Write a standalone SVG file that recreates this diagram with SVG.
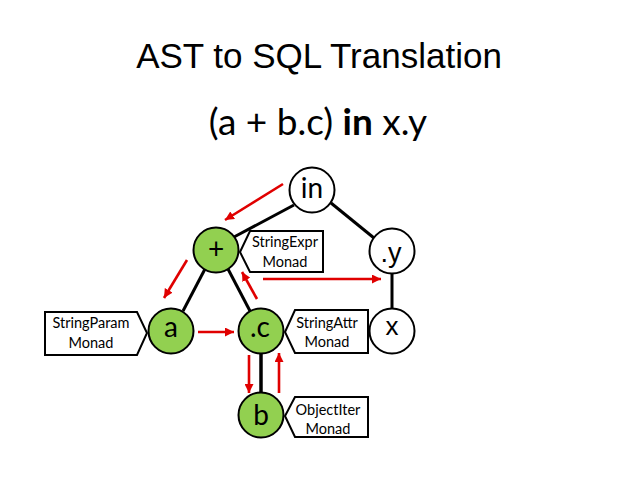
<svg xmlns="http://www.w3.org/2000/svg" width="638" height="479" viewBox="0 0 638 479">
<style>
.edge{stroke:#000;stroke-width:3;fill:none}
.red{stroke:#e00000;stroke-width:2.6;fill:none;marker-end:url(#ah)}
.nw{fill:#fff;stroke:#000;stroke-width:2}
.ng{fill:#92d050;stroke:#000;stroke-width:2}
.lbl{font-family:Lato,"Liberation Sans",sans-serif;font-size:28px;fill:#000;text-anchor:middle}
.lbla{font-family:"Liberation Sans",Arial,sans-serif;font-size:27px;fill:#000;text-anchor:middle}
.co{fill:#fff;stroke:#000;stroke-width:2}
.cot{font-family:Lato,"Liberation Sans",sans-serif;font-size:14.5px;fill:#000;text-anchor:middle}
</style>
<defs>
<marker id="ah" markerUnits="userSpaceOnUse" markerWidth="10" markerHeight="9" refX="9" refY="4.5" orient="auto">
<path d="M0,0 L9,4.5 L0,9 z" fill="#e00000"/>
</marker>
</defs>
<rect width="638" height="479" fill="#fff"/>
<text x="319" y="68" font-family="Liberation Sans,Arial,sans-serif" font-size="35" text-anchor="middle">AST to SQL Translation</text>
<text x="318" y="135" font-family="Lato,Liberation Sans,sans-serif" font-size="37" text-anchor="middle">(a + b.c) <tspan font-weight="bold">in</tspan> x.y</text>
<g id="edges">
<line class="edge" x1="294" y1="205" x2="234" y2="237"/>
<line class="edge" x1="331" y1="203" x2="374" y2="238"/>
<line class="edge" x1="205" y1="269" x2="183" y2="311"/>
<line class="edge" x1="228" y1="269" x2="250" y2="311"/>
<line class="edge" x1="392" y1="274" x2="392" y2="308"/>
<line class="edge" x1="261" y1="354" x2="261" y2="393" style="stroke-width:3.5"/>
</g>
<g id="flow">
<line class="red" x1="283" y1="184" x2="225" y2="220"/>
<line class="red" x1="187" y1="260" x2="164" y2="298"/>
<line class="red" x1="198" y1="332" x2="234" y2="332"/>
<line class="red" x1="257" y1="299" x2="242" y2="272"/>
<line class="red" x1="263" y1="279" x2="381" y2="279"/>
<line class="red" x1="249" y1="355" x2="249" y2="393"/>
<line class="red" x1="279" y1="393" x2="279" y2="353"/>
</g>
<g id="node-in"><circle class="nw" cx="312" cy="190" r="22.5"/><text class="lbl" x="312" y="198">in</text></g>
<g id="node-plus"><circle class="ng" cx="216" cy="250" r="22.5"/><text class="lbl" x="216" y="259">+</text></g>
<g id="node-y"><circle class="nw" cx="392" cy="251" r="22.5"/><text class="lbla" x="391" y="262">.y</text></g>
<g id="node-a"><circle class="ng" cx="171" cy="331" r="22.5"/><text class="lbl" x="171" y="337">a</text></g>
<g id="node-c"><circle class="ng" cx="261" cy="331" r="22.5"/><text class="lbl" x="260" y="337">.c</text></g>
<g id="node-x"><circle class="nw" cx="392" cy="331" r="22.5"/><text class="lbla" x="392" y="335" style="font-size:26px">x</text></g>
<g id="node-b"><circle class="ng" cx="261" cy="415" r="22.5"/><text class="lbl" x="261" y="425">b</text></g>
<g id="callout-stringexpr"><path class="co" d="M250,231 L323,231 L323,272 L250,272 L240,252 Z"/><text class="cot" x="285" y="247">StringExpr</text><text class="cot" x="285" y="267">Monad</text></g>
<g id="callout-stringparam"><path class="co" d="M45,312 L137,312 L147,333 L137,355 L45,355 Z"/><text class="cot" x="91" y="328">StringParam</text><text class="cot" x="91" y="348">Monad</text></g>
<g id="callout-stringattr"><path class="co" d="M295,310 L368,310 L368,353 L295,353 L285,332 Z"/><text class="cot" x="327" y="328">StringAttr</text><text class="cot" x="327" y="347">Monad</text></g>
<g id="callout-objectiter"><path class="co" d="M295,397 L368,397 L368,437 L295,437 L285,416 Z"/><text class="cot" x="328" y="415">ObjectIter</text><text class="cot" x="328" y="434">Monad</text></g>
</svg>
